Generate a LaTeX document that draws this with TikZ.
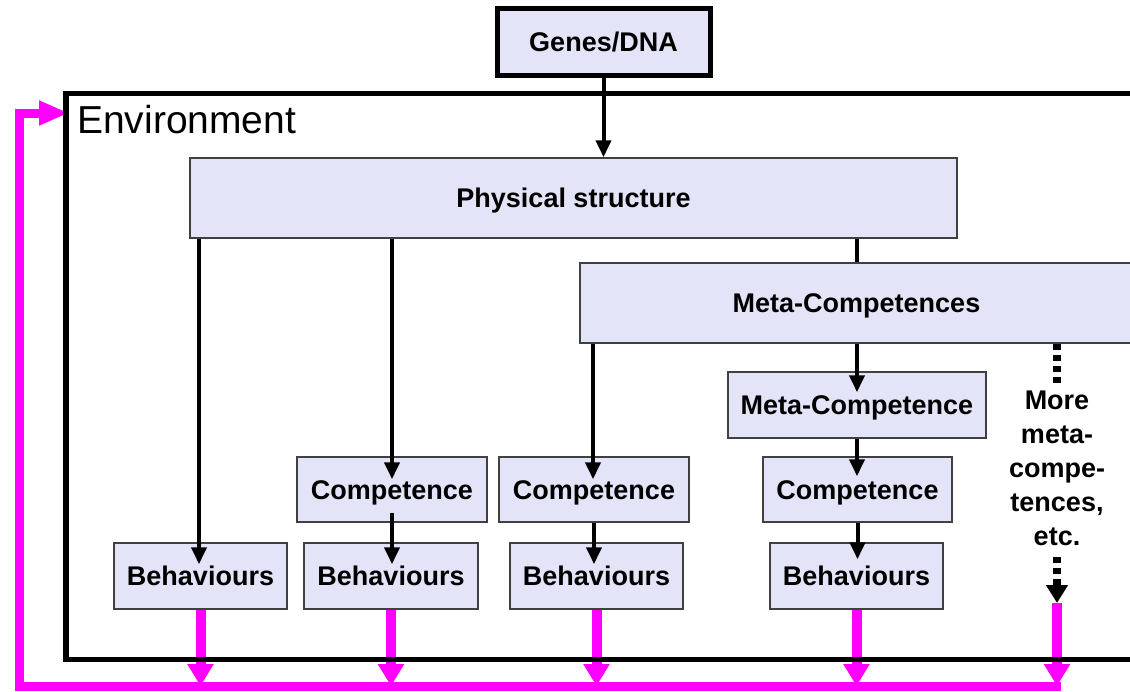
\documentclass[tikz,border=0pt]{standalone}
\usepackage{fontspec}
\setmainfont{Liberation Sans}
\usetikzlibrary{arrows.meta,calc}
\definecolor{boxfill}{RGB}{228,228,248}
\definecolor{mag}{RGB}{255,0,255}
\begin{document}
\begin{tikzpicture}[x=1pt,y=-1pt,
  box/.style={draw=black!75, line width=1.5pt, fill=boxfill, inner sep=0pt,
    text height=19.5pt, text depth=0pt,
    font=\fontsize{27}{32}\selectfont\bfseries},
  blk/.style={draw=black, line width=4pt, -{Triangle[length=17pt,width=15pt]}},
  blkline/.style={draw=black, line width=4pt},
  dotline/.style={draw=black, line width=8pt, dash pattern=on 6pt off 5pt},
  magarrow/.style={draw=mag, line width=10pt, -{Triangle[length=22pt,width=25pt]}},
  magloop/.style={draw=mag, line width=9pt, line join=miter, -{Triangle[length=30pt,width=23pt]}},
]
\useasboundingbox (0,0) rectangle (1130,691);

% boxes
\node[box, draw=black, line width=5pt, minimum width=213pt, minimum height=67.5pt] (genes) at (603.5,42) {Genes/DNA};
\node[box, minimum width=767pt, minimum height=80pt] (phys) at (573.5,198) {Physical structure};
\node[box, minimum width=553pt, minimum height=80pt] (meta) at (856.5,303) {Meta-Competences};
\node[box, minimum width=258pt, minimum height=66pt] (mc) at (857,405) {Meta-Competence};
\node[box, minimum width=190pt, minimum height=65pt] (c1) at (392,489.5) {Competence};
\node[box, minimum width=190pt, minimum height=65pt] (c2) at (594,489.5) {Competence};
\node[box, minimum width=189pt, minimum height=65pt] (c3) at (857.5,489.5) {Competence};
\node[box, minimum width=173pt, minimum height=66pt] (b1) at (200.5,576) {Behaviours};
\node[box, minimum width=174pt, minimum height=66pt] (b2) at (391,576) {Behaviours};
\node[box, minimum width=173pt, minimum height=66pt] (b3) at (596.5,576) {Behaviours};
\node[box, minimum width=173pt, minimum height=66pt] (b4) at (856.5,576) {Behaviours};

% more text
\node[font=\fontsize{27}{34}\selectfont\bfseries, align=center, inner sep=0pt, anchor=north] (more) at (1057,391) {More\\meta-\\compe-\\tences,\\etc.};
\coordinate (d1) at (1057,386);
\coordinate (d2) at (1057,557);
\coordinate (d3) at (1057,603);
\coordinate (x199) at (199,0);
\coordinate (x593) at (593,0);

% magenta feedback
\coordinate (bl) at (19,686);
\coordinate (br) at (1061,686);
\coordinate (tl) at (19,113);
\coordinate (tt) at (69,113);
\draw[magarrow] (b1.south) -- (b1.south |- br);
\draw[magarrow] (b2.south) -- (b2.south |- br);
\draw[magarrow] (b3.south) -- (b3.south |- br);
\draw[magarrow] (b4.south) -- (b4.south |- br);
\draw[magarrow] (d3) -- (d3 |- br);
\draw[magloop] (br) -- (bl) -- (tl) -- (tt);

% environment
\node[draw=black, line width=5.5pt, line join=miter, minimum width=1082pt, minimum height=566pt, inner sep=0pt, anchor=north west] (env) at (63,90.5) {};
\node[font=\fontsize{39}{45}\selectfont, anchor=base west, inner sep=0pt] (envlabel) at (77,133) {Environment};

% black connectors
\draw[blk] (genes.south) -- (phys.north -| genes.south);
\draw[blk] (phys.south -| x199) -- ($(x199 |- b1.north)+(0,22)$);
\draw[blk] (phys.south -| c1.north) -- ($(c1.north)+(0,23)$);
\draw[blk] ($(c1.south)+(0,-10)$) -- ($(c1.south |- b2.north)+(0,22)$);
\draw[blkline] (phys.south -| meta.north) -- (meta.north);
\draw[blk] (meta.south -| x593) -- ($(x593 |- c2.north)+(0,23)$);
\draw[blk] (c2.south) -- ($(c2.south |- b3.north)+(0,22)$);
\draw[blk] (meta.south -| mc.north) -- ($(mc.north)+(0,21)$);
\draw[blk] (mc.south) -- ($(mc.south |- c3.north)+(0,20)$);
\draw[blk] (c3.south) -- ($(c3.south |- b4.north)+(0,17)$);
\draw[dotline] (meta.south -| d1) -- (d1);
\draw[dotline, -{Triangle[length=18pt,width=21pt]}] (d2) -- (d3);
\end{tikzpicture}
\end{document}
